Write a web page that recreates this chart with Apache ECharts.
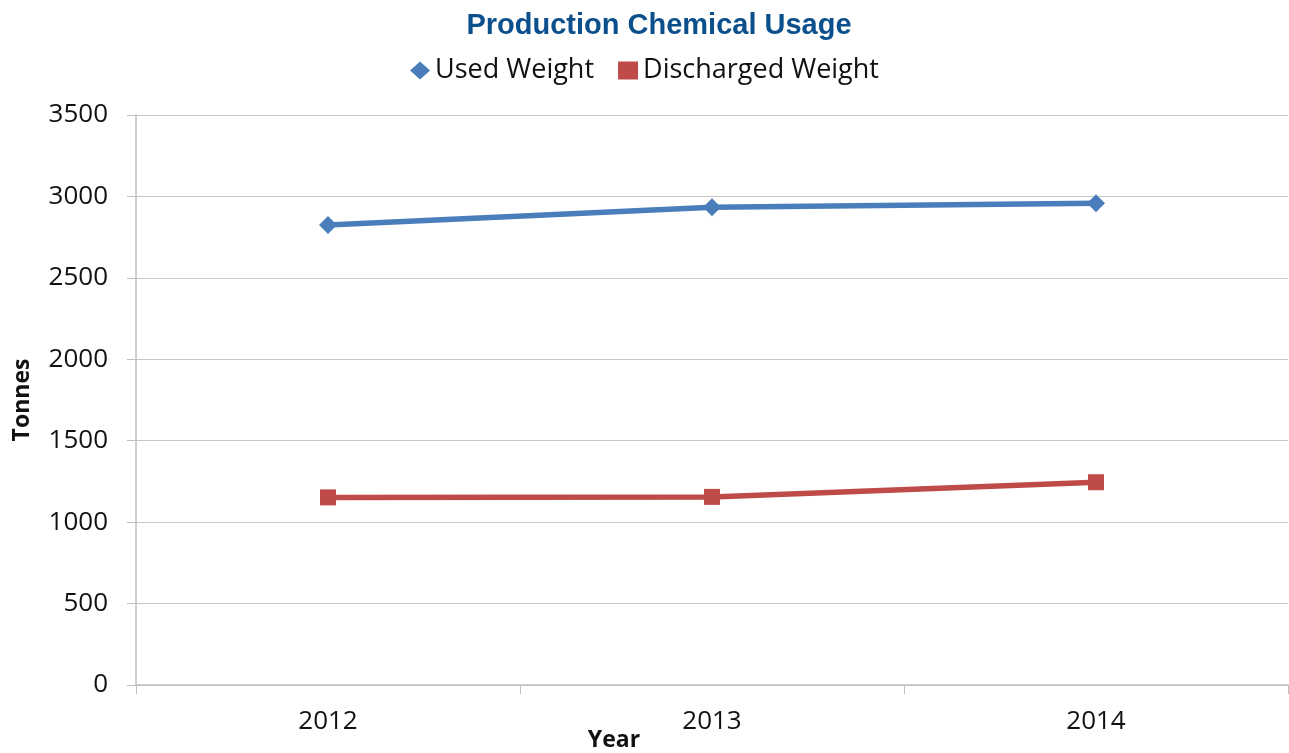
<!DOCTYPE html>
<html>
<head>
<meta charset="utf-8">
<script src="https://cdn.jsdelivr.net/npm/echarts@6/dist/echarts.min.js"></script>
<style>html,body{margin:0;padding:0;background:#fff;}#c{width:1289px;height:753px;}</style>
</head>
<body>
<div id="c"></div>
<script>
const categories = ['2012', '2013', '2014'];
const usedWeight = [2824, 2933, 2958];
const dischargedWeight = [1152, 1155, 1245];
const yTicks = { min: 0, max: 3500, interval: 500 };

const chart = echarts.init(document.getElementById('c'));
const labelFont = '"Open Sans", "Noto Sans", sans-serif';
chart.setOption({
  animation: false,
  backgroundColor: '#ffffff',
  title: {
    text: 'Production Chemical Usage',
    left: 654, top: 6, textAlign: 'center',
    textStyle: { fontFamily: '"Liberation Sans", sans-serif', fontWeight: 'bold', fontSize: 29, color: '#0b4f8c' }
  },
  legend: {
    top: 52, left: 'center',
    itemGap: 24, itemWidth: 20, itemHeight: 18,
    textStyle: { fontFamily: labelFont, fontSize: 27, color: '#111' },
    data: [
      { name: 'Used Weight', icon: 'diamond', itemStyle: { color: '#4a7ebb' } },
      { name: 'Discharged Weight', icon: 'rect', itemStyle: { color: '#be4b48' } }
    ]
  },
  grid: { left: 136, right: 1, top: 115, bottom: 68, containLabel: false, outerBoundsMode: 'none' },
  xAxis: {
    type: 'category', data: categories, boundaryGap: true,
    name: 'Year', nameLocation: 'middle', nameGap: 55, nameMoveOverlap: false,
    nameTextStyle: { fontFamily: labelFont, fontWeight: 'bold', fontSize: 23, color: '#111', padding: [0, 196, 0, 0], verticalAlign: 'middle' },
    axisLine: { show: true, lineStyle: { color: '#bfbfbf', width: 1.5 } },
    axisTick: { show: true, length: 9, alignWithLabel: false, lineStyle: { color: '#bfbfbf' } },
    axisLabel: { fontFamily: labelFont, fontSize: 26, color: '#111', margin: 24 },
    splitLine: { show: false }
  },
  yAxis: {
    type: 'value', min: yTicks.min, max: yTicks.max, interval: yTicks.interval,
    name: 'Tonnes', nameLocation: 'middle', nameGap: 102, nameRotate: 90, nameMoveOverlap: false,
    nameTextStyle: { fontFamily: labelFont, fontWeight: 'bold', fontSize: 23, color: '#111' },
    axisLine: { show: true, lineStyle: { color: '#bfbfbf', width: 1.5 } },
    axisTick: { show: true, length: 9, lineStyle: { color: '#bfbfbf' } },
    axisLabel: { fontFamily: labelFont, fontSize: 26, color: '#111', margin: 28, formatter: function (v) { return String(v); } },
    splitLine: { show: true, lineStyle: { color: '#c8c8c8', width: 1.2 } }
  },
  series: [
    {
      name: 'Used Weight', type: 'line', data: usedWeight,
      symbol: 'diamond', symbolSize: 18,
      lineStyle: { color: '#4a7ebb', width: 5.5 },
      itemStyle: { color: '#4a7ebb' }
    },
    {
      name: 'Discharged Weight', type: 'line', data: dischargedWeight,
      symbol: 'rect', symbolSize: 16,
      lineStyle: { color: '#be4b48', width: 5.5 },
      itemStyle: { color: '#be4b48' }
    }
  ]
});
</script>
</body>
</html>
